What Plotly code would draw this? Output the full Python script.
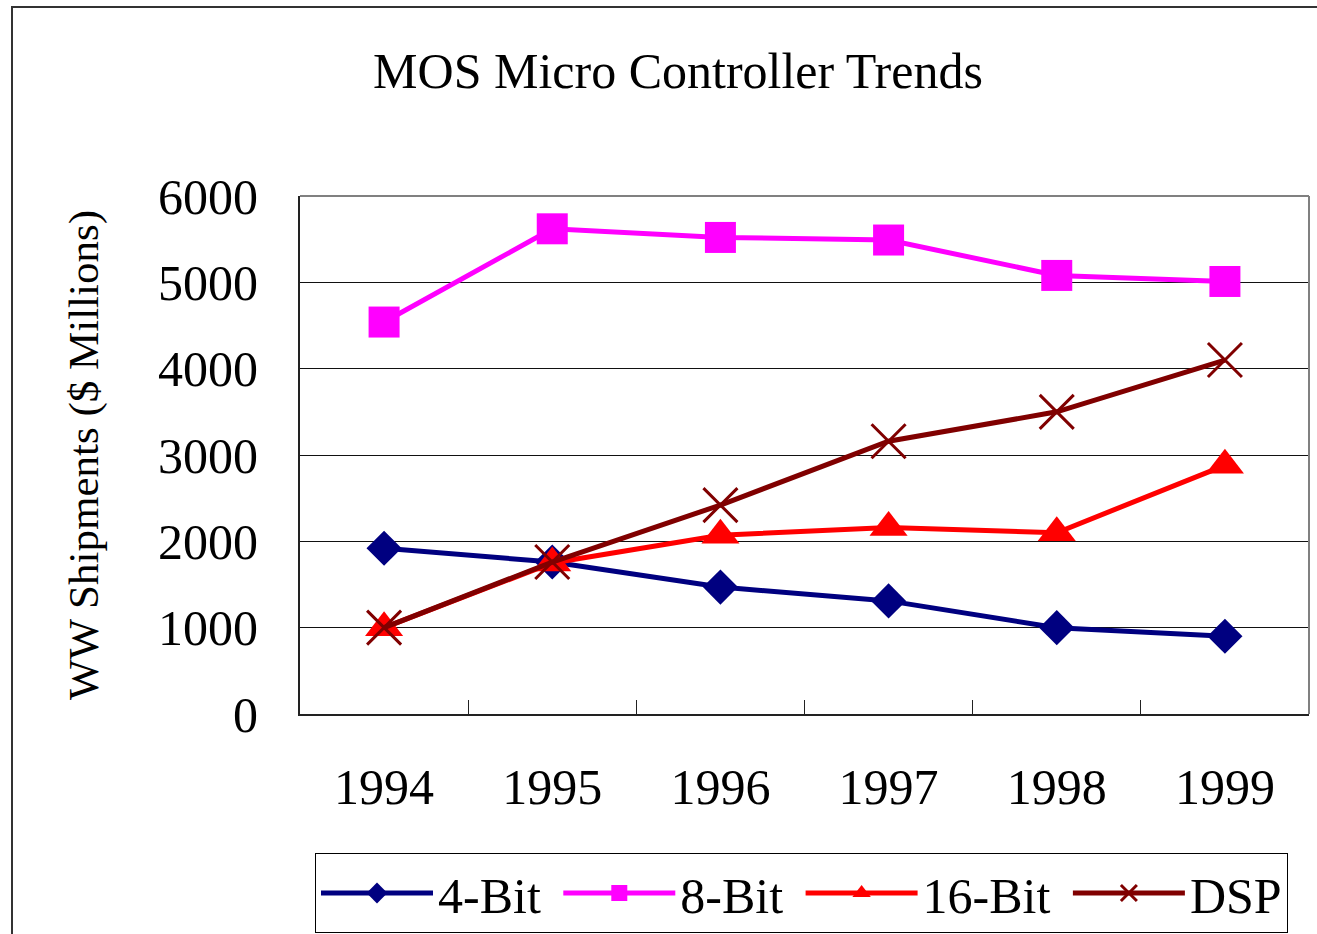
import plotly.graph_objects as go

years = ["1994", "1995", "1996", "1997", "1998", "1999"]
bit4 = [1920, 1760, 1470, 1310, 1000, 900]
bit8 = [4540, 5620, 5520, 5490, 5080, 5010]
bit16 = [1000, 1750, 2070, 2160, 2100, 2880]
dsp = [1000, 1760, 2420, 3160, 3500, 4100]

series_names = ["4-Bit", "8-Bit", "16-Bit", "DSP"]
series_values = [bit4, bit8, bit16, dsp]
series_colors = ["#000080", "#FF00FF", "#FF0000", "#800000"]
series_symbols = ["diamond", "square", "triangle-up", "x-thin-open"]
series_sizes = [27, 31, 33, 34]

y_ticks = [0, 1000, 2000, 3000, 4000, 5000, 6000]

FONT = "Liberation Serif"
NBSP = "\u00a0"

fig = go.Figure()
for i, (name, vals, col, sym, sz) in enumerate(zip(series_names, series_values, series_colors,
                                                  series_symbols, series_sizes)):
    marker = dict(symbol=sym, size=sz, color=col)
    if sym == "x-thin-open":
        marker["line"] = dict(color=col, width=3)
    else:
        marker["line"] = dict(color=col, width=0)
    label = name + (NBSP if i < len(series_names) - 1 else "")
    fig.add_trace(go.Scatter(
        x=years, y=vals, name=label, mode="lines+markers",
        line=dict(color=col, width=5),
        marker=marker,
    ))

W, H = 1317, 934
L, R, T, B = 300, 8, 196, 220
pw = W - L - R
ph = H - T - B


def px2x(px):
    return (px - L) / pw


def py2y(py):
    return (H - B - py) / ph


fig.update_layout(
    width=W, height=H,
    margin=dict(l=L, r=R, t=T, b=B, autoexpand=False),
    paper_bgcolor="white", plot_bgcolor="white",
    font=dict(family=FONT, size=50, color="black"),
    title=dict(text="MOS Micro Controller Trends", x=678 / W, xref="container",
               xanchor="center", y=1 - 70 / H, yref="container", yanchor="middle",
               font=dict(family=FONT, size=50, color="black")),
    xaxis=dict(
        type="category", range=[-0.5, 5.5], showgrid=False,
        showline=True, linecolor="#222222", linewidth=2,
        ticks="inside", tickson="boundaries", ticklen=14, tickcolor="#222222",
        tickwidth=1, ticklabelstandoff=28,
        tickfont=dict(family=FONT, size=50, color="black"),
        zeroline=False, fixedrange=True,
    ),
    yaxis=dict(
        range=[0, 6000], tickvals=y_ticks, showgrid=True, gridcolor="#111111",
        gridwidth=1, showline=True, linecolor="#222222", linewidth=2,
        ticks="inside", ticklen=16, tickcolor="#111111", tickwidth=1,
        ticklabelstandoff=30, zeroline=False, fixedrange=True,
        tickfont=dict(family=FONT, size=50, color="black"),
        title=dict(text="WW Shipments ($ Millions)", standoff=46,
                   font=dict(family=FONT, size=43, color="black")),
    ),
    showlegend=True,
    legend=dict(
        orientation="h", x=px2x(315), xanchor="left", y=py2y(853), yanchor="top",
        bordercolor="black", borderwidth=1, bgcolor="white",
        font=dict(family=FONT, size=50, color="black"),
        itemwidth=112, tracegroupgap=0,
    ),
    shapes=[
        # plot area border (top & right, gray)
        dict(type="line", xref="paper", yref="paper", x0=0, x1=1, y0=1, y1=1,
             line=dict(color="#808080", width=2), layer="above"),
        dict(type="line", xref="paper", yref="paper", x0=1, x1=1, y0=0, y1=1,
             line=dict(color="#808080", width=2), layer="above"),
        # outer chart border
        dict(type="rect", xref="paper", yref="paper",
             x0=px2x(12), x1=px2x(1335), y0=py2y(960), y1=py2y(7),
             line=dict(color="#333333", width=2), fillcolor="rgba(0,0,0,0)",
             layer="below"),
    ],
)

fig.write_html("out.html", config={"displayModeBar": False},
               post_script="document.body.style.margin='0';")
